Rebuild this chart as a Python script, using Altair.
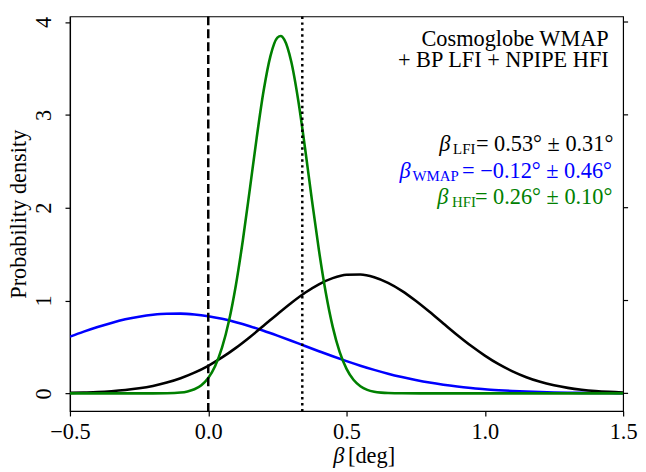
import altair as alt
import pandas as pd

# ---- data ----
lfi_x = [-0.5, -0.45, -0.4, -0.35, -0.3, -0.25, -0.2, -0.15, -0.1, -0.05, 0.0, 0.05, 0.1, 0.15, 0.2,
         0.25, 0.3, 0.35, 0.4, 0.45, 0.5, 0.55, 0.6, 0.65, 0.7, 0.75, 0.8, 0.85, 0.9, 0.95, 1.0,
         1.05, 1.1, 1.15, 1.2, 1.25, 1.3, 1.35, 1.4, 1.45, 1.5]
lfi_y = [0.005, 0.009, 0.014, 0.023, 0.036, 0.054, 0.080, 0.116, 0.163, 0.223, 0.297, 0.387, 0.490,
         0.605, 0.728, 0.853, 0.974, 1.084, 1.175, 1.241, 1.277, 1.280, 1.251, 1.190, 1.104, 0.997,
         0.878, 0.753, 0.629, 0.512, 0.407, 0.314, 0.237, 0.174, 0.124, 0.087, 0.059, 0.039, 0.025,
         0.016, 0.010]

wmap_x = lfi_x
wmap_y = [0.611, 0.665, 0.715, 0.759, 0.797, 0.826, 0.847, 0.858, 0.859, 0.850, 0.831, 0.803, 0.767,
          0.724, 0.675, 0.622, 0.567, 0.510, 0.454, 0.399, 0.347, 0.298, 0.253, 0.212, 0.176, 0.144,
          0.116, 0.093, 0.074, 0.058, 0.044, 0.034, 0.026, 0.019, 0.014, 0.010, 0.007, 0.005, 0.004,
          0.003, 0.002]

hfi_x = [-0.5, -0.2, -0.15, -0.1, -0.075, -0.05, -0.025, 0.0, 0.025, 0.05, 0.075, 0.1, 0.125, 0.15,
         0.175, 0.2, 0.225, 0.25, 0.2625, 0.275, 0.3, 0.325, 0.35, 0.375, 0.4, 0.425, 0.45, 0.475,
         0.5, 0.525, 0.55, 0.575, 0.6, 0.625, 0.65, 0.7, 0.8, 1.5]
hfi_y = [0.0, 0.0002, 0.0015, 0.009, 0.021, 0.044, 0.088, 0.165, 0.294, 0.494, 0.782, 1.168, 1.647,
         2.191, 2.750, 3.256, 3.636, 3.832, 3.850, 3.810, 3.574, 3.162, 2.640, 2.079, 1.545, 1.083,
         0.716, 0.447, 0.263, 0.146, 0.077, 0.038, 0.018, 0.008, 0.003, 0.0004, 0.0, 0.0]

vline_dashed = [0.0]
vline_dotted = [0.34]

x_ticks = [-0.5, 0.0, 0.5, 1.0, 1.5]
y_ticks = [0, 1, 2, 3, 4]

FONT = "Liberation Serif"
FS = 22.5
BLACK, BLUE, GREEN = "#000000", "#0000ff", "#008000"

x_scale = alt.Scale(domain=[-0.5, 1.5], nice=False, zero=False)
y_scale = alt.Scale(domain=[-0.19, 4.06], nice=False, zero=False)

x_axis = alt.Axis(values=x_ticks, format=".1f", title=None, labelFont=FONT, labelFontSize=FS,
                  labelColor=BLACK, labelPadding=5, tickSize=5, tickColor=BLACK, tickWidth=1.2,
                  domainColor=BLACK, domainWidth=1.2, labelFlush=False, grid=False)
y_axis = alt.Axis(values=y_ticks, format="d", title="Probability density", labelAngle=-90,
                  labelAlign="center", labelBaseline="bottom", labelFont=FONT, labelFontSize=FS,
                  labelColor=BLACK, titleFont=FONT, titleFontSize=FS, titleColor=BLACK,
                  titleFontWeight="normal", labelPadding=10, titlePadding=2, tickSize=5,
                  tickColor=BLACK, tickWidth=1.2, domainColor=BLACK, domainWidth=1.2, grid=False)


def curve(xs, ys, color):
    df = pd.DataFrame({"x": xs, "y": ys})
    return alt.Chart(df).mark_line(color=color, strokeWidth=2.6, interpolate="monotone", clip=True).encode(
        x=alt.X("x:Q", scale=x_scale, axis=x_axis),
        y=alt.Y("y:Q", scale=y_scale, axis=y_axis),
    )


lfi = curve(lfi_x, lfi_y, BLACK)
wmap = curve(wmap_x, wmap_y, BLUE)
hfi = curve(hfi_x, hfi_y, GREEN)

dashed = alt.Chart(pd.DataFrame({"x": vline_dashed})).mark_rule(
    color=BLACK, strokeWidth=2.5, strokeDash=[9, 4]).encode(x=alt.X("x:Q", scale=x_scale))
dotted = alt.Chart(pd.DataFrame({"x": vline_dotted})).mark_rule(
    color=BLACK, strokeWidth=2.5, strokeDash=[2.5, 3.5]).encode(x=alt.X("x:Q", scale=x_scale))

W, H = 558, 398
# right-side axis ticks (no labels), placed through the y scale
right_ticks = alt.Chart(pd.DataFrame({"y": y_ticks})).mark_rule(
    color=BLACK, strokeWidth=1.2, clip=False).encode(
    y=alt.Y("y:Q", scale=y_scale), x=alt.value(W), x2=alt.value(W + 5))

# ---- annotations (pixel positions relative to plot area) ----
L, T = 70.5, 14.5


def txt(s, px, py, size, color=BLACK, align="left", style="normal"):
    return alt.Chart(pd.DataFrame({"t": [s]})).mark_text(
        align=align, baseline="alphabetic", font=FONT, fontSize=size, color=color, fontStyle=style,
        clip=False
    ).encode(x=alt.value(px - L), y=alt.value(py - T), text="t:N")


ann = [
    txt("Cosmoglobe WMAP", 614, 44, FS, align="right"),
    txt("+ BP LFI + NPIPE HFI", 614, 66, FS, align="right"),
    txt("β", 443, 150, FS, BLACK, style="italic"),
    txt("LFI", 457, 153, 15),
    txt("= 0.53° ± 0.31°", 480, 150, FS, BLACK),
    txt("β", 403, 177, FS, BLUE, style="italic"),
    txt("WMAP", 416, 180, 15, BLUE),
    txt("= −0.12° ± 0.46°", 466, 177, FS, BLUE),
    txt("β", 441, 204, FS, GREEN, style="italic"),
    txt("HFI", 456, 207, 15, GREEN),
    txt("= 0.26° ± 0.10°", 479, 204, FS, GREEN),
    # x-axis title
    txt("β", 336, 465, FS, style="italic"),
    txt("[deg]", 351, 465, FS),
]

chart = alt.layer(wmap, lfi, hfi, dashed, dotted, right_ticks, *ann).properties(
    width=W, height=H,
    autosize=alt.AutoSizeParams(type="none"),
    padding={"left": 62.5, "top": 6.5, "right": 15, "bottom": 57},
).configure_view(stroke=BLACK, strokeWidth=1.2)

chart.save("out.html", embed_options={"renderer": "svg", "actions": False})
